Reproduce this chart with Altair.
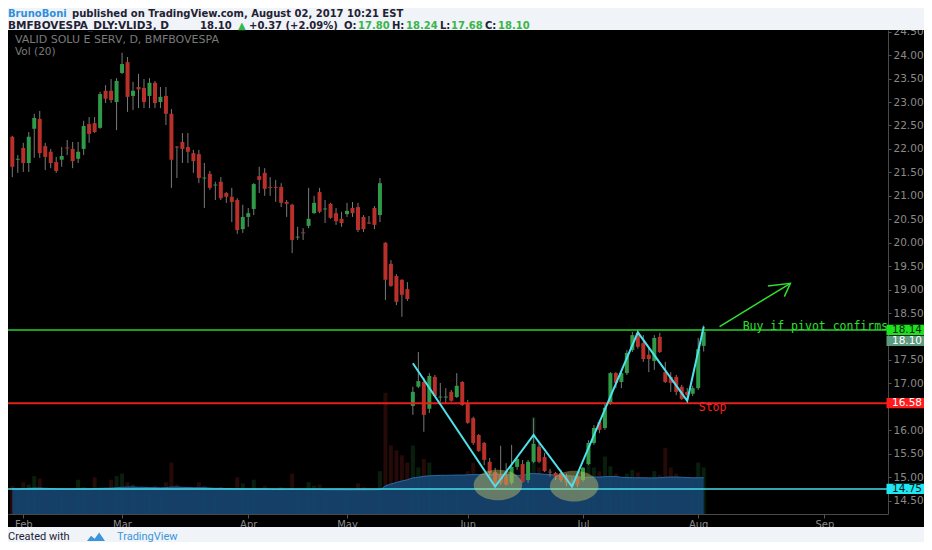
import altair as alt
import pandas as pd

# ---------------- data ----------------
opens = [22.26, 21.77, 22.02, 21.70, 22.43, 22.64, 22.06, 21.94, 21.72, 21.77,
         22.03, 22.00, 21.79, 22.00, 22.53, 22.55, 22.45, 23.24, 23.24, 23.00,
         23.62, 23.85, 23.13, 23.32, 23.30, 23.13, 23.41, 23.00, 23.13, 22.75,
         22.05, 22.15, 22.04, 21.91, 21.89, 21.37, 21.47, 21.22, 21.30, 21.06,
         20.98, 20.91, 20.29, 20.55, 20.72, 21.42, 21.49, 21.19, 21.19, 21.19,
         20.87, 20.81, 20.11, 20.22, 20.36, 20.63, 21.08, 20.71, 20.83, 20.63,
         20.51, 20.61, 20.74, 20.76, 20.55, 20.43, 20.74, 20.59, 20.00, 19.55,
         19.29, 19.21, 19.01, 16.52, 16.93, 17.03, 16.46, 17.14, 16.70, 16.70,
         16.82, 16.71, 17.03, 16.58, 16.26, 15.90, 15.73, 15.33, 15.11, 15.05,
         15.01, 14.88, 15.22, 15.28, 14.94, 15.33, 15.65, 15.43, 15.12, 15.09,
         15.09, 15.01, 14.91, 15.01, 14.94, 15.28, 15.73, 16.18, 16.05, 16.58,
         17.22, 17.03, 17.22, 17.71, 18.08, 17.86, 17.61, 17.48, 17.99, 17.24,
         17.14, 17.14, 16.93, 16.82, 16.78, 16.90, 17.80]
highs = [22.28, 21.87, 22.13, 22.36, 22.75, 22.81, 22.13, 22.00, 21.83, 22.04,
         22.19, 22.15, 22.15, 22.60, 22.68, 22.68, 23.22, 23.36, 23.49, 23.51,
         24.05, 23.96, 23.43, 23.60, 23.49, 23.51, 23.45, 23.32, 23.32, 22.85,
         22.06, 22.34, 22.34, 21.98, 21.98, 21.70, 21.53, 21.30, 21.40, 21.08,
         21.17, 20.95, 20.81, 20.74, 21.27, 21.62, 21.59, 21.40, 21.34, 21.27,
         20.91, 20.83, 20.34, 20.31, 21.17, 21.00, 21.17, 20.91, 20.85, 20.74,
         20.66, 20.85, 20.87, 20.85, 20.59, 20.57, 20.78, 21.38, 20.01, 19.63,
         19.33, 19.22, 19.16, 16.93, 17.67, 17.12, 17.22, 17.18, 17.01, 16.90,
         16.86, 17.22, 17.05, 16.65, 16.29, 15.92, 15.75, 15.41, 15.20, 15.67,
         15.30, 15.69, 15.43, 15.37, 15.37, 16.26, 15.73, 15.52, 15.18, 15.11,
         15.16, 15.07, 14.99, 15.07, 15.22, 15.79, 16.11, 16.22, 16.58, 17.24,
         17.24, 17.29, 17.71, 18.10, 18.14, 18.03, 17.78, 18.03, 18.08, 17.46,
         17.24, 17.18, 16.97, 16.90, 16.95, 17.97, 18.24]
lows = [21.40, 21.49, 21.51, 21.51, 21.81, 21.81, 21.55, 21.59, 21.49, 21.62,
        21.87, 21.59, 21.70, 21.87, 22.13, 22.34, 22.43, 22.98, 22.98, 22.40,
        23.60, 22.79, 22.83, 22.87, 22.87, 22.87, 22.87, 22.87, 22.51, 21.17,
        21.38, 21.70, 21.70, 21.49, 21.27, 20.74, 21.13, 20.91, 20.91, 20.85,
        20.44, 20.19, 20.21, 20.34, 20.59, 21.06, 21.00, 21.00, 20.87, 20.76,
        20.55, 19.78, 20.06, 20.06, 20.31, 20.62, 20.63, 20.42, 20.51, 20.38,
        20.34, 20.55, 20.55, 20.23, 20.23, 20.40, 20.29, 20.44, 18.78, 19.06,
        18.67, 18.42, 18.76, 16.33, 16.90, 15.97, 16.37, 16.71, 16.61, 16.58,
        16.61, 16.69, 16.52, 16.14, 15.69, 15.54, 15.26, 15.01, 14.81, 14.84,
        14.83, 14.84, 15.16, 14.88, 14.88, 15.30, 15.30, 15.11, 15.01, 14.94,
        14.90, 14.81, 14.79, 14.79, 14.90, 15.26, 15.69, 15.94, 16.01, 16.54,
        16.90, 16.90, 17.18, 17.67, 17.74, 17.46, 17.24, 17.29, 17.65, 17.01,
        16.82, 16.75, 16.65, 16.62, 16.73, 16.86, 17.68]
closes = [21.62, 21.79, 21.70, 22.26, 22.66, 21.91, 21.83, 21.70, 21.53, 21.85,
          22.01, 21.74, 21.94, 22.49, 22.32, 22.36, 23.17, 23.07, 23.04, 23.45,
          23.81, 23.11, 23.24, 23.27, 23.00, 23.41, 22.98, 23.11, 22.75, 21.77,
          22.03, 22.00, 21.94, 21.74, 21.38, 21.39, 21.17, 21.24, 20.95, 20.98,
          20.87, 20.27, 20.55, 20.63, 21.25, 21.34, 21.15, 21.17, 21.17, 20.85,
          20.83, 20.06, 20.13, 20.20, 20.51, 20.85, 20.66, 20.73, 20.53, 20.46,
          20.42, 20.68, 20.63, 20.27, 20.29, 20.41, 20.38, 21.27, 19.21, 19.08,
          18.74, 18.89, 18.80, 16.82, 17.05, 16.33, 17.16, 16.73, 16.72, 16.72,
          16.63, 16.95, 16.54, 16.16, 15.73, 15.56, 15.37, 15.09, 14.84, 14.88,
          14.84, 15.22, 15.39, 14.90, 15.33, 15.71, 15.33, 15.13, 15.10, 15.01,
          14.94, 14.88, 14.89, 14.84, 15.20, 15.73, 16.05, 16.01, 16.48, 17.22,
          17.01, 17.22, 17.65, 18.03, 17.78, 17.52, 17.52, 17.97, 17.67, 17.03,
          17.01, 16.82, 16.67, 16.75, 16.90, 17.73, 18.10]
volumes_k = [230, 180, 260, 240, 310, 290, 200, 190, 170, 180, 160, 210, 280, 220, 170, 300, 210, 220, 280, 310,
             330, 260, 240, 200, 220, 190, 230, 150, 260, 420, 240, 200, 180, 190, 260, 230, 180, 160, 220, 170,
             190, 300, 250, 180, 280, 200, 230, 150, 140, 220, 180, 330, 200, 170, 260, 230, 240, 150, 190, 200,
             210, 170, 160, 250, 220, 150, 210, 350, 990, 560, 520, 480, 420, 560, 380, 450, 420, 300, 220, 200,
             190, 250, 300, 350, 420, 300, 320, 330, 290, 310, 300, 350, 280, 300, 320, 790, 380, 300, 220, 260,
             240, 300, 280, 230, 260, 420, 380, 350, 470, 390, 330, 290, 330, 360, 340, 300, 290, 350, 320, 540,
             380, 330, 300, 260, 250, 420, 380]
vol_ma_k = [205, 205, 208, 210, 212, 212, 210, 208, 205, 205, 203, 203, 205, 205, 205, 208, 210, 210, 212, 215,
            218, 220, 220, 218, 218, 216, 215, 214, 215, 220, 220, 218, 216, 215, 215, 214, 212, 210, 210, 208,
            206, 206, 205, 204, 205, 204, 203, 202, 200, 200, 200, 202, 202, 200, 200, 200, 200, 198, 198, 198,
            198, 197, 197, 198, 198, 198, 198, 200, 230, 245, 258, 270, 280, 295, 300, 308, 312, 314, 316, 316,
            317, 318, 318, 320, 322, 322, 324, 325, 326, 325, 320, 318, 316, 315, 330, 330, 328, 325, 322, 318,
            315, 312, 310, 306, 300, 300, 302, 302, 305, 306, 306, 300, 298, 296, 296, 296, 295, 295, 296, 300,
            302, 302, 300, 298, 296, 296, 296]

month_ticks = [2, 20, 43, 61, 83, 104, 125, 148]
month_names = ["Feb", "Mar", "Apr", "May", "Jun", "Jul", "Aug", "Sep"]
# 18.00 and 16.50 sit under the price tags in the reference, so they are not shown
price_ticks = [14.5, 15.0, 15.5, 16.0, 17.0, 17.5, 18.5, 19.0, 19.5,
               20.0, 20.5, 21.0, 21.5, 22.0, 22.5, 23.0, 23.5, 24.0, 24.5]

zigzag_i = [73, 88, 95, 102, 114, 123, 126]
zigzag_p = [17.43, 14.80, 15.90, 14.80, 18.09, 16.63, 18.21]

level_prices = [18.14, 16.58, 14.75]
level_colors = ["#25d325", "#e3201b", "#45dde8"]
level_widths = [1.5, 2, 1.5]

ellipse_i = [88.5, 102.4]
ellipse_p = [14.835, 14.81]

arrow_i = [128.9, 141.8, 137.7, 141.8, 140.7]
arrow_p = [18.21, 19.135, 19.078, 19.135, 18.85]
arrow_seg = ["shaft", "shaft", "head", "head", "head"]
arrow_ord = [0, 1, 0, 1, 2]

# price tag boxes on the right axis: (price, background, text colour, vertical shift)
tag_prices = [18.14, 18.10, 16.58, 14.75]
tag_text = ["18.14", "18.10", "16.58", "14.75"]
tag_bg = ["#1fe01f", "#5f9b80", "#ff1c1c", "#1fe6f0"]
tag_fg = ["#062006", "#ffffff", "#ffffff", "#001a1c"]
tag_shift = [0, 9, 0, 0]

# ---------------- tables ----------------
n = len(opens)
df = pd.DataFrame({"i": list(range(n)), "open": opens, "high": highs, "low": lows,
                   "close": closes, "vol": volumes_k, "ma": vol_ma_k})
df["dir"] = ["up" if c >= o else "down" for o, c in zip(opens, closes)]

W, H = 880, 484
FONT = "DejaVu Sans"
xscale = alt.Scale(domain=[0.126, 158.68], nice=False, zero=False)
yscale = alt.Scale(domain=[14.216, 24.536], nice=False, zero=False)

label_expr = " : ".join(f"datum.value == {t} ? '{m}'" for t, m in zip(month_ticks, month_names)) + " : ''"
xaxis = alt.Axis(values=month_ticks, labelExpr=label_expr, title=None, grid=False,
                 tickSize=4, tickColor="#555555", domainColor="#4a4a4a", labelColor="#8a8a8a",
                 labelFont=FONT, labelFontSize=10, labelPadding=1, labelFlush=False, orient="bottom")
yaxis = alt.Axis(values=price_ticks, format=".2f", title=None, grid=False, orient="right",
                 tickSize=3, tickColor="#555555", domainColor="#4a4a4a", labelColor="#8a8a8a",
                 labelFont=FONT, labelFontSize=10.5, labelPadding=2, labelFlush=False)

X = alt.X("i:Q", scale=xscale, axis=xaxis)

base = alt.Chart(df)

# volume pane (own scale)
VOLDOM = [0, 3955]
vol_bars = base.mark_bar(size=4, opacity=0.2, clip=True).encode(
    x=X,
    y=alt.Y("vol:Q", scale=alt.Scale(domain=VOLDOM), axis=None, stack=None),
    color=alt.Color("dir:N", scale=alt.Scale(domain=["up", "down"], range=["#2f9a48", "#b8302a"]), legend=None),
)
vol_area = base.mark_area(color="#15446f", opacity=0.93, clip=True, interpolate="monotone",
                          line={"color": "#2a69a6", "strokeWidth": 1}).encode(
    x=X, y=alt.Y("ma:Q", scale=alt.Scale(domain=VOLDOM), axis=None))
vol_layer = alt.layer(vol_bars, vol_area)

# candles
wicks = base.mark_rule(color="#7a7a7a", strokeWidth=1, clip=True).encode(
    x=X, y=alt.Y("low:Q", scale=yscale, axis=yaxis), y2="high:Q")
bodies = base.mark_bar(size=4, clip=True).encode(
    x=X, y=alt.Y("open:Q", scale=yscale, axis=yaxis), y2="close:Q",
    color=alt.Color("dir:N", scale=alt.Scale(domain=["up", "down"], range=["#6ba583", "#d75442"]), legend=None))

Y = lambda f: alt.Y(f, scale=yscale, axis=yaxis)

lv = pd.DataFrame({"p": level_prices, "c": level_colors, "w": level_widths})
levels = alt.Chart(lv).mark_rule(clip=True).encode(
    y=Y("p:Q"), color=alt.Color("c:N", scale=None), strokeWidth=alt.StrokeWidth("w:Q", scale=None))

ell = pd.DataFrame({"i": ellipse_i, "p": ellipse_p})
ellipses = alt.Chart(ell).mark_point(
    shape="M-1,0A1,0.63,0,1,0,1,0A1,0.63,0,1,0,-1,0Z", filled=True, size=2352,
    color="#d6d06a", opacity=0.42, strokeWidth=0, clip=True).encode(x=X, y=Y("p:Q"))

zz = pd.DataFrame({"i": zigzag_i, "p": zigzag_p, "o": list(range(len(zigzag_i)))})
zigzag = alt.Chart(zz).mark_line(color="#4ee2ec", strokeWidth=2, clip=True).encode(
    x=X, y=Y("p:Q"), order="o:O")

ar = pd.DataFrame({"i": arrow_i, "p": arrow_p, "s": arrow_seg, "o": arrow_ord})
arrow = alt.Chart(ar).mark_line(color="#2fe02f", strokeWidth=1.5, clip=True).encode(
    x=X, y=Y("p:Q"), detail="s:N", order="o:O")

notes = pd.DataFrame({"i": [133.1, 125.1], "p": [18.2, 16.47], "t": ["Buy if pivot confirms", "Stop"],
                      "c": ["#2fe02f", "#ff2020"]})
note_text = alt.Chart(notes).mark_text(align="left", baseline="middle", font="DejaVu Sans Mono",
                                       fontSize=11.5, clip=True).encode(
    x=X, y=Y("p:Q"), text="t:N", color=alt.Color("c:N", scale=None))

# price tags on the axis strip
tag_layers = []
for p, t, bg, fg, dy in zip(tag_prices, tag_text, tag_bg, tag_fg, tag_shift):
    d = pd.DataFrame({"p": [p], "t": [t]})
    tag_layers.append(alt.Chart(d).mark_point(
        shape="M-1,-0.27L1,-0.27L1,0.27L-1,0.27Z", filled=True, size=1444, color=bg,
        opacity=1, strokeWidth=0, yOffset=dy).encode(x=alt.value(897.5), y=Y("p:Q")))
    tag_layers.append(alt.Chart(d).mark_text(
        align="center", baseline="middle", font=FONT, fontSize=10.5, color=fg, yOffset=dy).encode(
        x=alt.value(899), y=Y("p:Q"), text="t:N"))

one = pd.DataFrame({"a": [0]})


def txt(s, x, y, color, size=10, weight="normal", font=FONT):
    return alt.Chart(one).mark_text(text=s, align="left", baseline="middle", font=font,
                                    fontSize=size, fontWeight=weight, color=color).encode(
        x=alt.value(x), y=alt.value(y))


def box(x1, x2, y1, y2, color):
    return alt.Chart(one).mark_rect(color=color).encode(
        x=alt.value(x1), x2=alt.value(x2), y=alt.value(y1), y2=alt.value(y2))


LIGHT = "#f0f3f8"
DARK = "#1f2233"
GREEN = "#39b54a"
frame = [box(-1, 920, -23, 0, LIGHT), box(-1, 920, 497, 520, LIGHT)]

L1, L2 = -16, -4.5
header = [
    txt("BrunoBoni", 0, L1, "#2f8fdc", 10, "bold"),
    txt("published on TradingView.com, August 02, 2017 10:21 EST", 64, L1, DARK, 10, "bold"),
    txt("BMFBOVESPA_DLY:VLID3, D", 0, L2, DARK, 10.5, "bold"),
    txt("18.10", 192, L2, DARK, 10, "bold"),
    txt("▲", 230, L2, GREEN, 10, "bold"),
    txt("+0.37 (+2.09%)", 241, L2, DARK, 10, "bold"),
    txt("O:", 336, L2, DARK, 10, "bold"),
    txt("17.80", 350, L2, GREEN, 10, "bold"),
    txt("H:", 384, L2, DARK, 10, "bold"),
    txt("18.24", 398, L2, GREEN, 10, "bold"),
    txt("L:", 432, L2, DARK, 10, "bold"),
    txt("17.68", 443, L2, GREEN, 10, "bold"),
    txt("C:", 477, L2, DARK, 10, "bold"),
    txt("18.10", 490, L2, GREEN, 10, "bold"),
    txt("VALID SOLU E SERV, D, BMFBOVESPA", 7, 10, "#7a7a7a", 11),
    txt("Vol (20)", 7, 22, "#7a7a7a", 10.5),
    txt("Created with", 0, 507, DARK, 11, "normal", "Roboto"),
    txt("TradingView", 109, 507, "#3a95d9", 11, "normal", "Roboto"),
]
logo = alt.Chart(one).mark_point(
    shape="M-1,0.45L-0.55,-0.15L-0.15,0.2L0.35,-0.5L1,0.45Z", filled=True, size=324,
    color="#3a95d9", opacity=1, strokeWidth=0).encode(x=alt.value(88), y=alt.value(507))

price_layer = alt.layer(wicks, bodies, levels, ellipses, zigzag, arrow, note_text,
                        *tag_layers, *frame, *header, logo)

chart = alt.layer(vol_layer, price_layer).resolve_scale(y="independent").properties(
    width=W, height=H,
    padding={"left": 0, "top": 22, "right": 36, "bottom": 28},
    autosize=alt.AutoSizeParams(type="none"),
).configure(background="#000000").configure_view(strokeWidth=0)

chart.save("out.html", embed_options={"renderer": "svg", "actions": False})
